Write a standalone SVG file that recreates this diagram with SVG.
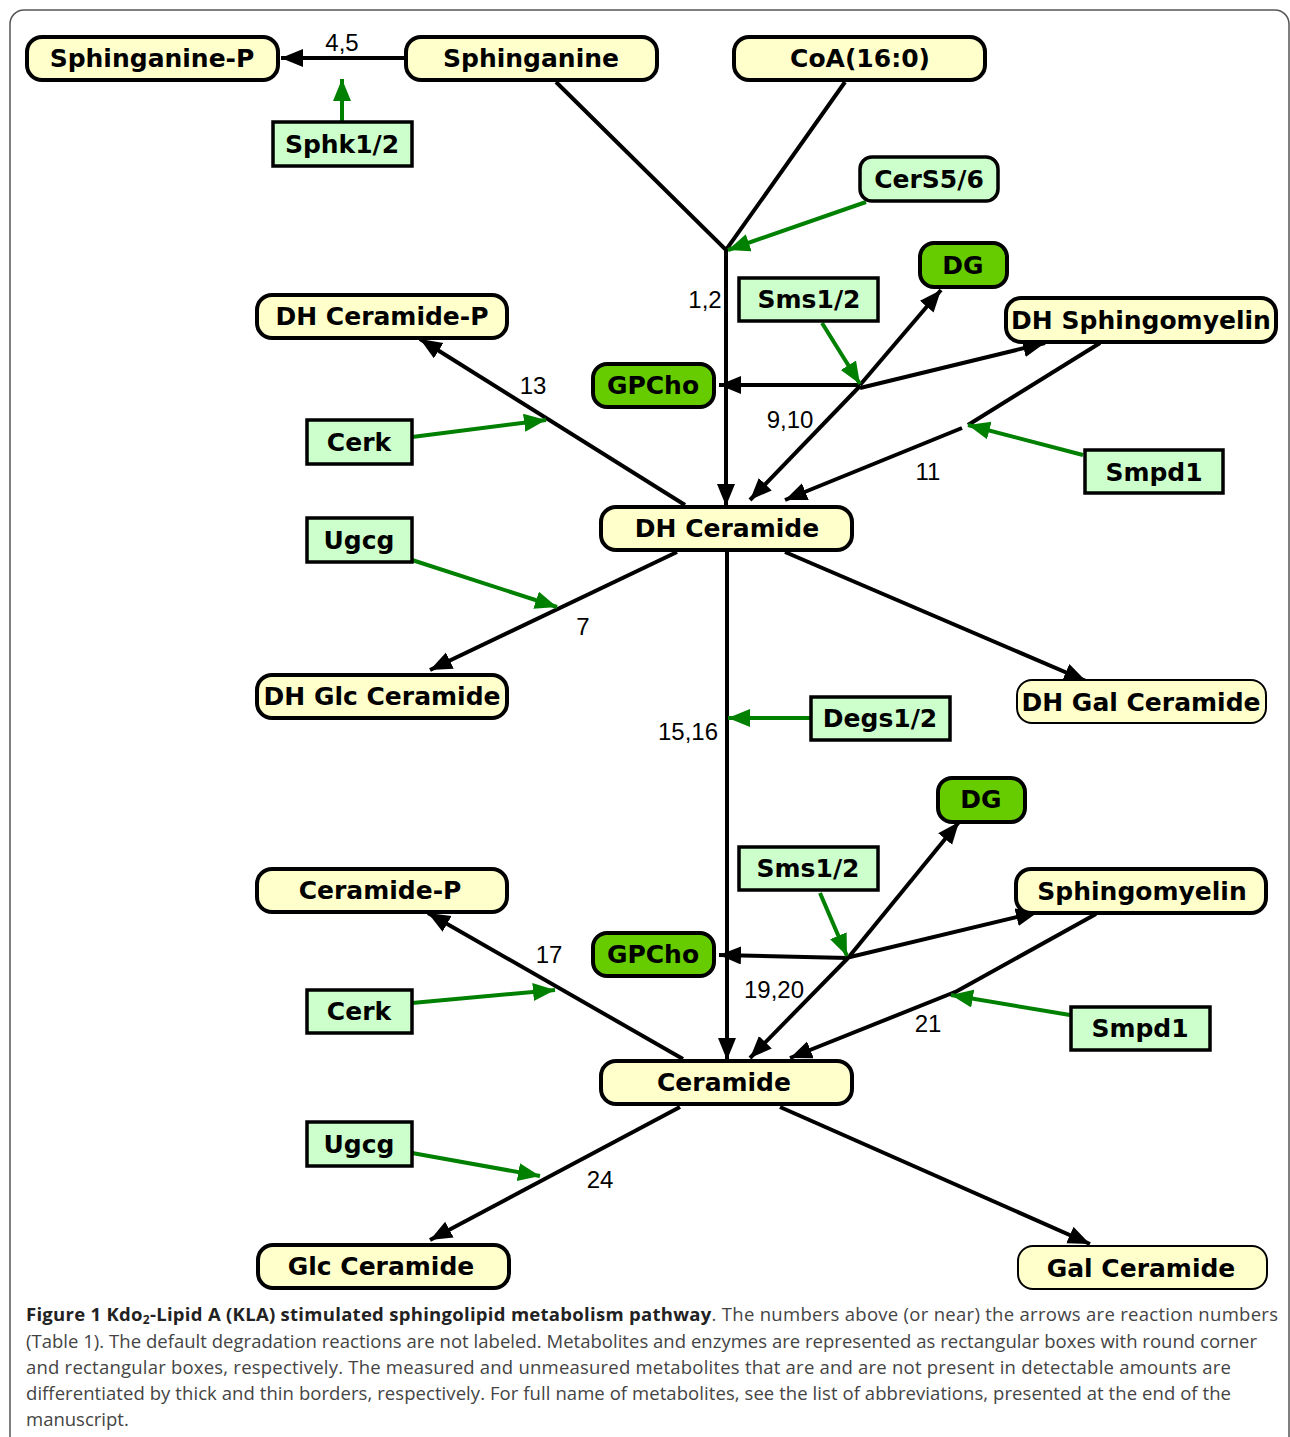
<svg xmlns="http://www.w3.org/2000/svg" width="1290" height="1437" viewBox="0 0 1290 1437">
<style>
.met rect{fill:#ffffcc;stroke:#000;stroke-width:4}
.met.thin rect{stroke-width:2}
.enz rect{fill:#ccffcc;stroke:#000;stroke-width:3.5}
.dg rect{fill:#66cc00;stroke:#000;stroke-width:4}
.lbl{font-family:"DejaVu Sans",Verdana,sans-serif;font-weight:bold;font-size:25px;text-anchor:middle;fill:#000}
.num{font-family:"Liberation Sans",Arial,sans-serif;font-size:24px;fill:#000;text-anchor:middle}
.c{stroke:#000;stroke-width:4;fill:none}
.e{stroke:#008000;stroke-width:4;fill:none}
.cap{font-family:"Open Sans","Liberation Sans",sans-serif;font-size:18.5px;fill:#444}
.capb{font-weight:bold;fill:#222}
</style>
<defs>
<marker id="ab" markerUnits="userSpaceOnUse" markerWidth="24" markerHeight="20" refX="22" refY="9" orient="auto"><path d="M0,0 L22,9 L0,18 z" fill="#000"/></marker>
<marker id="ag" markerUnits="userSpaceOnUse" markerWidth="24" markerHeight="20" refX="22" refY="9" orient="auto"><path d="M0,0 L22,9 L0,18 z" fill="#008000"/></marker>
</defs>
<rect x="10" y="10" width="1279" height="1450" rx="14" fill="#fff" stroke="#555" stroke-width="1.5"/>

<g id="connectors">
<line class="c" x1="406" y1="58" x2="281" y2="58" marker-end="url(#ab)"/>
<line class="e" x1="342" y1="122" x2="342" y2="79" marker-end="url(#ag)"/>
<polyline class="c" points="556,82 726,250 845,82"/>
<line class="c" x1="726" y1="250" x2="726" y2="506" marker-end="url(#ab)"/>
<line class="e" x1="866" y1="202" x2="728" y2="250" marker-end="url(#ag)"/>
<line class="c" x1="860" y1="385" x2="719" y2="385" marker-end="url(#ab)"/>
<line class="c" x1="860" y1="385" x2="941" y2="290" marker-end="url(#ab)"/>
<line class="c" x1="860" y1="388" x2="1045" y2="343" marker-end="url(#ab)"/>
<line class="c" x1="860" y1="386" x2="750" y2="500" marker-end="url(#ab)"/>
<line class="e" x1="822" y1="323" x2="860" y2="384" marker-end="url(#ag)"/>
<polyline class="c" points="1100,343 968,425"/>
<line class="c" x1="962" y1="428" x2="785" y2="500" marker-end="url(#ab)"/>
<line class="e" x1="1083" y1="455" x2="968" y2="425" marker-end="url(#ag)"/>
<line class="c" x1="685" y1="505" x2="420" y2="339" marker-end="url(#ab)"/>
<line class="e" x1="412" y1="437" x2="546" y2="420" marker-end="url(#ag)"/>
<line class="c" x1="677" y1="552" x2="430" y2="670" marker-end="url(#ab)"/>
<line class="e" x1="412" y1="560" x2="557" y2="607" marker-end="url(#ag)"/>
<line class="c" x1="785" y1="552" x2="1086" y2="681" marker-end="url(#ab)"/>
<line class="c" x1="727" y1="552" x2="727" y2="1060" marker-end="url(#ab)"/>
<line class="e" x1="811" y1="718" x2="728" y2="718" marker-end="url(#ag)"/>
<line class="c" x1="848" y1="958" x2="719" y2="955" marker-end="url(#ab)"/>
<line class="c" x1="848" y1="958" x2="959" y2="822" marker-end="url(#ab)"/>
<line class="c" x1="846" y1="958" x2="1038" y2="912" marker-end="url(#ab)"/>
<line class="c" x1="848" y1="958" x2="750" y2="1058" marker-end="url(#ab)"/>
<line class="e" x1="820" y1="893" x2="847" y2="956" marker-end="url(#ag)"/>
<polyline class="c" points="1096,914 950,995"/>
<line class="c" x1="955" y1="992" x2="790" y2="1058" marker-end="url(#ab)"/>
<line class="e" x1="1070" y1="1015" x2="951" y2="995" marker-end="url(#ag)"/>
<line class="c" x1="683" y1="1059" x2="428" y2="913" marker-end="url(#ab)"/>
<line class="e" x1="412" y1="1003" x2="555" y2="990" marker-end="url(#ag)"/>
<line class="c" x1="680" y1="1107" x2="430" y2="1240" marker-end="url(#ab)"/>
<line class="e" x1="412" y1="1153" x2="540" y2="1176" marker-end="url(#ag)"/>
<line class="c" x1="780" y1="1107" x2="1090" y2="1244" marker-end="url(#ab)"/>
<text class="num" x="342" y="51">4,5</text>
<text class="num" x="705" y="308">1,2</text>
<text class="num" x="790" y="428">9,10</text>
<text class="num" x="928" y="480">11</text>
<text class="num" x="533" y="394">13</text>
<text class="num" x="583" y="635">7</text>
<text class="num" x="688" y="740">15,16</text>
<text class="num" x="774" y="998">19,20</text>
<text class="num" x="928" y="1032">21</text>
<text class="num" x="549" y="963">17</text>
<text class="num" x="600" y="1188">24</text>
</g>

<g id="n-sphinganine-p" class="met"><rect x="27" y="37" width="251" height="43" rx="15"/><text class="lbl" x="152" y="67">Sphinganine-P</text></g>
<g id="n-sphinganine" class="met"><rect x="406" y="37" width="251" height="43" rx="15"/><text class="lbl" x="531" y="67">Sphinganine</text></g>
<g id="n-coa" class="met"><rect x="734" y="37" width="251" height="43" rx="15"/><text class="lbl" x="860" y="67">CoA(16:0)</text></g>
<g id="e-sphk" class="enz"><rect x="273" y="122" width="139" height="44"/><text class="lbl" x="342" y="153">Sphk1/2</text></g>
<g id="e-cers" class="enz"><rect x="860" y="157" width="138" height="44" rx="12"/><text class="lbl" x="929" y="188">CerS5/6</text></g>
<g id="n-dg1" class="dg"><rect x="920" y="243" width="87" height="44" rx="14"/><text class="lbl" x="963" y="274">DG</text></g>
<g id="e-sms1" class="enz"><rect x="739" y="278" width="139" height="43"/><text class="lbl" x="809" y="308">Sms1/2</text></g>
<g id="n-dhcerp" class="met"><rect x="257" y="295" width="250" height="43" rx="15"/><text class="lbl" x="382" y="325">DH Ceramide-P</text></g>
<g id="n-dhsm" class="met"><rect x="1006" y="298" width="270" height="44" rx="15"/><text class="lbl" x="1141" y="329">DH Sphingomyelin</text></g>
<g id="n-gpcho1" class="dg"><rect x="593" y="364" width="121" height="43" rx="14"/><text class="lbl" x="653" y="394">GPCho</text></g>
<g id="e-cerk1" class="enz"><rect x="307" y="420" width="105" height="44"/><text class="lbl" x="359" y="451">Cerk</text></g>
<g id="e-smpd1" class="enz"><rect x="1085" y="450" width="138" height="43"/><text class="lbl" x="1154" y="481">Smpd1</text></g>
<g id="n-dhcer" class="met"><rect x="601" y="507" width="251" height="43" rx="15"/><text class="lbl" x="727" y="537">DH Ceramide</text></g>
<g id="e-ugcg1" class="enz"><rect x="307" y="518" width="105" height="44"/><text class="lbl" x="359" y="549">Ugcg</text></g>
<g id="n-dhglc" class="met"><rect x="257" y="675" width="250" height="43" rx="15"/><text class="lbl" x="382" y="705">DH Glc Ceramide</text></g>
<g id="n-dhgal" class="met thin"><rect x="1017" y="680" width="249" height="43" rx="15"/><text class="lbl" x="1141" y="711">DH Gal Ceramide</text></g>
<g id="e-degs" class="enz"><rect x="811" y="697" width="139" height="43"/><text class="lbl" x="880" y="727">Degs1/2</text></g>
<g id="n-dg2" class="dg"><rect x="938" y="778" width="87" height="44" rx="14"/><text class="lbl" x="981" y="808">DG</text></g>
<g id="e-sms2" class="enz"><rect x="739" y="847" width="139" height="43"/><text class="lbl" x="808" y="877">Sms1/2</text></g>
<g id="n-cerp" class="met"><rect x="257" y="869" width="250" height="43" rx="15"/><text class="lbl" x="380" y="899">Ceramide-P</text></g>
<g id="n-sm" class="met"><rect x="1016" y="869" width="250" height="44" rx="15"/><text class="lbl" x="1142" y="900">Sphingomyelin</text></g>
<g id="n-gpcho2" class="dg"><rect x="593" y="933" width="121" height="43" rx="14"/><text class="lbl" x="653" y="963">GPCho</text></g>
<g id="e-cerk2" class="enz"><rect x="307" y="990" width="105" height="43"/><text class="lbl" x="359" y="1020">Cerk</text></g>
<g id="e-smpd2" class="enz"><rect x="1071" y="1007" width="139" height="43"/><text class="lbl" x="1140" y="1037">Smpd1</text></g>
<g id="n-cer" class="met"><rect x="601" y="1061" width="251" height="43" rx="15"/><text class="lbl" x="724" y="1091">Ceramide</text></g>
<g id="e-ugcg2" class="enz"><rect x="307" y="1122" width="105" height="44"/><text class="lbl" x="359" y="1153">Ugcg</text></g>
<g id="n-glc" class="met"><rect x="258" y="1245" width="251" height="43" rx="15"/><text class="lbl" x="381" y="1275">Glc Ceramide</text></g>
<g id="n-gal" class="met thin"><rect x="1018" y="1246" width="249" height="43" rx="15"/><text class="lbl" x="1141" y="1277">Gal Ceramide</text></g>

<g id="caption">
<text class="cap" x="26" y="1321" textLength="1252" lengthAdjust="spacing"><tspan class="capb">Figure 1 Kdo</tspan><tspan class="capb" font-size="12" dy="3">2</tspan><tspan class="capb" dy="-3">-Lipid A (KLA) stimulated sphingolipid metabolism pathway</tspan>. The numbers above (or near) the arrows are reaction numbers</text>
<text class="cap" x="26" y="1348" textLength="1231" lengthAdjust="spacing">(Table 1). The default degradation reactions are not labeled. Metabolites and enzymes are represented as rectangular boxes with round corner</text>
<text class="cap" x="26" y="1374" textLength="1205" lengthAdjust="spacing">and rectangular boxes, respectively. The measured and unmeasured metabolites that are and are not present in detectable amounts are</text>
<text class="cap" x="26" y="1400" textLength="1205" lengthAdjust="spacing">differentiated by thick and thin borders, respectively. For full name of metabolites, see the list of abbreviations, presented at the end of the</text>
<text class="cap" x="26" y="1426">manuscript.</text>
</g>
</svg>
